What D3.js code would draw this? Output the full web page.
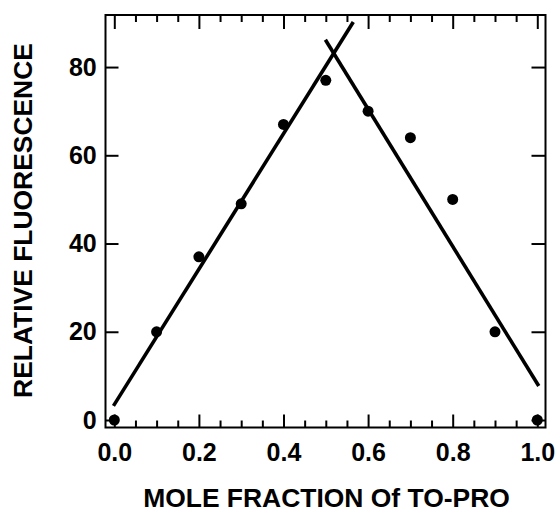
<!DOCTYPE html>
<html>
<head>
<meta charset="utf-8">
<script src="https://cdn.jsdelivr.net/npm/d3@7/dist/d3.min.js"></script>
<style>
  html, body { margin: 0; padding: 0; background: #fff; }
  svg { display: block; }
  text { font-family: "Liberation Sans", Arial, Helvetica, sans-serif; font-weight: bold; fill: #000; }
</style>
</head>
<body>
<svg id="chart" width="559" height="512"></svg>
<script>
// ---- data ----
const moleFraction = [0.0, 0.1, 0.2, 0.3, 0.4, 0.5, 0.6, 0.7, 0.8, 0.9, 1.0];
const fluorescence = [0, 20, 37, 49, 67, 77, 70, 64, 50, 20, 0];
const ascendingFit = [[-0.002, 3.2], [0.565, 90.2]];
const descendingFit = [[0.499, 86.2], [1.0035, 7.7]];
const xTickValues = [0.0, 0.2, 0.4, 0.6, 0.8, 1.0];
const xMinorTickValues = [0.05, 0.1, 0.15, 0.25, 0.3, 0.35, 0.45, 0.5, 0.55, 0.65, 0.7, 0.75, 0.85, 0.9, 0.95];
const yTickValues = [0, 20, 40, 60, 80];
const xTitle = "MOLE FRACTION Of TO-PRO";
const yTitle = "RELATIVE FLUORESCENCE";

// ---- layout ----
const svg = d3.select("#chart");
const L = 105.5, R = 545.5, T = 15, B = 427.5;

const x = d3.scaleLinear().domain([-0.0208, 1.0194]).range([L, R]);
const y = d3.scaleLinear().domain([-1.70, 91.8]).range([B, T]);

const tickFont = 25;

// frame
svg.append("rect")
  .attr("x", L).attr("y", T).attr("width", R - L).attr("height", B - T)
  .attr("fill", "none").attr("stroke", "#000").attr("stroke-width", 2);

function styleAxis(g) {
  g.select(".domain").remove();
  g.selectAll(".tick line").attr("stroke", "#000").attr("stroke-width", 2);
  g.selectAll("text").attr("font-size", tickFont).attr("font-family", '"Liberation Sans", Arial, sans-serif').attr("font-weight", "bold").attr("fill", "#000");
}

// bottom major with labels
svg.append("g").attr("transform", `translate(0,${B})`)
  .call(d3.axisBottom(x).tickValues(xTickValues).tickSize(-13).tickPadding(15.5).tickFormat(d3.format(".1f")))
  .call(styleAxis);
// bottom minor
svg.append("g").attr("transform", `translate(0,${B})`)
  .call(d3.axisBottom(x).tickValues(xMinorTickValues).tickSize(-7).tickFormat(""))
  .call(styleAxis);
// top major / minor
svg.append("g").attr("transform", `translate(0,${T})`)
  .call(d3.axisTop(x).tickValues(xTickValues).tickSize(-14).tickFormat(""))
  .call(styleAxis);
svg.append("g").attr("transform", `translate(0,${T})`)
  .call(d3.axisTop(x).tickValues(xMinorTickValues).tickSize(-7).tickFormat(""))
  .call(styleAxis);
// left with labels
svg.append("g").attr("transform", `translate(${L},0)`)
  .call(d3.axisLeft(y).tickValues(yTickValues).tickSize(-13).tickPadding(8.8).tickFormat(d3.format("d")))
  .call(styleAxis);
// right
svg.append("g").attr("transform", `translate(${R},0)`)
  .call(d3.axisRight(y).tickValues(yTickValues).tickSize(-14).tickFormat(""))
  .call(styleAxis);

// fit lines
const lineGen = d3.line().x(d => x(d[0])).y(d => y(d[1]));
[ascendingFit, descendingFit].forEach(seg => {
  svg.append("path").attr("d", lineGen(seg))
    .attr("fill", "none").attr("stroke", "#000").attr("stroke-width", 3.6);
});

// points
svg.append("g").selectAll("circle")
  .data(moleFraction.map((m, i) => [m, fluorescence[i]]))
  .join("circle")
  .attr("cx", d => x(d[0])).attr("cy", d => y(d[1]))
  .attr("r", 5.5).attr("fill", "#000");

// titles, fitted to measured widths
function fitText(sel, target) {
  const w = sel.node().getComputedTextLength();
  const fs = parseFloat(sel.attr("font-size"));
  sel.attr("font-size", fs * target / w);
}
const xt = svg.append("text")
  .attr("x", 326.5).attr("y", 506.5)
  .attr("text-anchor", "middle").attr("font-size", 22)
  .text(xTitle);
fitText(xt, 367);

const yt = svg.append("text")
  .attr("transform", "translate(32,220.5) rotate(-90)")
  .attr("text-anchor", "middle").attr("font-size", 22)
  .text(yTitle);
fitText(yt, 355);
</script>
</body>
</html>
